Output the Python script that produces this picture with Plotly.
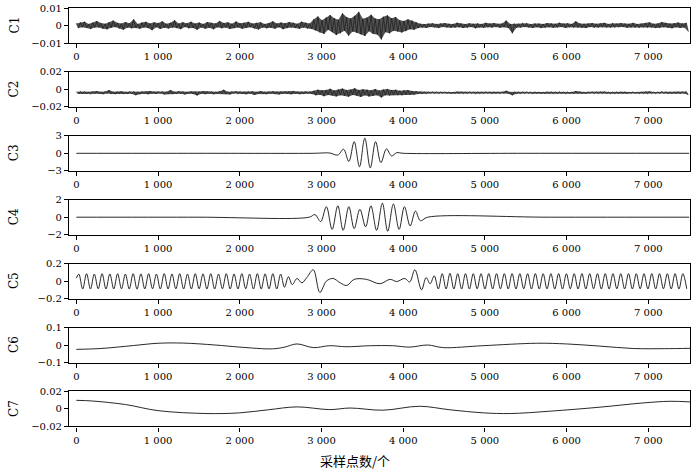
import numpy as np
import plotly.graph_objects as go

# ---------------- data ----------------
X_TICKS = [0, 1000, 2000, 3000, 4000, 5000, 6000, 7000]
X_TICK_TEXT = ["0", "1 000", "2 000", "3 000", "4 000", "5 000", "6 000", "7 000"]
N_SAMPLES = 7500

Y_LIMITS = [0.01, 0.02, 3, 2, 0.2, 0.1, 0.02]
Y_TICK_TEXT = [["−0.01", "0", "0.01"], ["−0.02", "0", "0.02"], ["−3", "0", "3"],
               ["−2", "0", "2"], ["−0.2", "0", "0.2"], ["−0.1", "0", "0.1"],
               ["−0.02", "0", "0.02"]]
NAMES = ["C1", "C2", "C3", "C4", "C5", "C6", "C7"]

# C1 noise, units of 1e-4 (successive local extrema)
C1_vals = [12,-15,18,-10,22,-14,9,-20,16,-12,25,-11,14,-18,10,-22,19,-13,28,-9,
           15,-17,11,-24,20,-12,13,-16,35,-14,9,-19,17,-11,21,-15,12,-27,18,-10,
           14,-20,24,-13,10,-17,16,-12,30,-15,11,-21,19,-9,13,-16,22,-14,12,-25,
           17,-11,9,-18,20,-13,15,-22,12,-10,26,-16,14,-12,18,-20,10,-15,23,-11,
           13,-19,16,-14,21,-10,11,-17,15,-23,19,-12,9,-16,14,-13,24,-18,12,-10,
           17,-21,13,-15,20,-11,16,-14,10,-19,22,-12,15,-17,11,-20,
           35,-28,52,-40,30,-48,45,-25,60,-38,42,-55,33,-45,70,-30,48,-58,40,-35,
           55,-42,78,-50,38,-60,45,-33,62,-48,40,-52,36,-80,50,-38,58,-45,42,-30,
           48,-35,30,-40,26,-32,35,-22,28,-25,18,-15,
           10,-12,8,-14,11,-9,13,-10,9,-15,12,-8,14,-11,10,-13,9,-12,16,-10,
           11,-14,8,-12,13,-9,10,-16,12,-11,9,-13,15,-10,11,-12,14,-9,10,-13,
           12,-10,28,-14,9,-45,11,-13,10,-12,15,-9,13,-11,8,-14,12,-10,11,-15,
           9,-12,14,-10,12,-13,10,-11,16,-9,11,-14,13,-10,9,-12,24,-11,12,-13,
           10,-15,11,-9,14,-12,10,-13,12,-10,15,-11,9,-14,13,-12,11,-10,14,-9,
           12,-13,10,-11,15,-12,9,-14,11,-10,13,-12,18,-11,10,-15,12,-13,20,-10,
           14,-12,11,-16,13,-10,17,-14,12,-11,15,-35]
C1_SCALE = 1e-4

# C2 noise, units of 1e-4, around an offset
C2_OFFSET = -0.0038
C2_vals = [12,-14,16,-11,13,-15,10,-18,14,-12,19,-13,11,-16,15,-10,30,-14,12,-19,
           13,-11,18,-15,10,-14,16,-12,14,-28,11,-16,15,-13,12,-18,19,-11,13,-15,
           16,-10,14,-19,12,-13,30,-16,11,-14,18,-12,15,-20,10,-13,16,-15,12,-32,
           14,-11,19,-16,13,-12,15,-18,11,-14,16,-13,34,-15,12,-19,14,-10,18,-16,
           13,-14,11,-18,15,-12,16,-26,10,-15,19,-13,12,-16,14,-11,18,-15,13,-19,
           15,-12,16,-14,11,-18,20,-13,14,-16,12,-15,18,-11,13,-14,
           22,-30,35,-24,28,-40,32,-26,45,-30,26,-42,38,-28,48,-33,30,-45,36,-25,
           52,-34,30,-48,40,-30,35,-44,28,-36,42,-30,25,-55,38,-28,44,-32,30,-26,
           35,-28,24,-30,28,-22,30,-24,20,-22,17,-14,
           9,-11,8,-12,10,-9,11,-10,9,-13,11,-8,12,-10,9,-11,8,-12,13,-9,
           10,-12,8,-11,11,-9,10,-13,11,-10,9,-12,13,-9,10,-11,12,-9,10,-12,
           11,-10,24,-12,9,-30,10,-11,9,-12,13,-9,11,-10,8,-12,11,-9,10,-13,
           9,-11,12,-10,11,-12,9,-10,13,-9,10,-12,11,-10,9,-11,20,-10,11,-12,
           9,-13,10,-9,12,-11,10,-12,11,-9,13,-10,9,-12,11,-11,10,-9,12,-9,
           11,-12,9,-10,13,-11,9,-12,10,-9,12,-11,16,-10,9,-13,11,-12,18,-9,
           12,-11,10,-13,11,-9,14,-12,11,-10,13,-26]
C2_SCALE = 1e-4

# C3 wave packet (extrema)
C3_x = [0, 1500, 2900, 3100, 3200, 3270, 3335, 3400, 3465, 3530, 3597, 3662, 3727, 3795, 3858, 3920, 4000, 5500, 7500]
C3_y = [0, 0, 0, 0.05, -0.3, 0.7, -1.4, 2.0, -2.3, 2.6, -2.5, 2.0, -1.6, 0.75, -0.45, 0.1, 0, 0, 0]

# C4 wave packet (extrema)
C4_x = [0, 1500, 2850, 2920, 2990, 3060, 3130, 3200, 3265, 3335, 3400, 3470, 3540, 3605,
        3675, 3745, 3810, 3880, 3950, 4015, 4085, 4150, 4210, 4300, 5800, 7500]
C4_y = [0, 0, 0, 0.3, -0.5, 1.2, -1.4, 1.3, -1.5, 1.2, -1.3, 0.9, -1.1, 1.3,
        -1.5, 1.6, -1.6, 1.5, -1.4, 1.2, -1.0, 0.7, -0.4, 0, 0, 0]

# C5: regular oscillation extrema + irregular middle section
C5_HALF_PERIOD = 47.5
C5_left_start = 30
C5_left_vals = [0.08,-0.09,0.085,-0.09,0.08,-0.088,0.085,-0.09,0.082,-0.09,
                0.085,-0.088,0.08,-0.09,0.085,-0.092,0.083,-0.09,0.085,-0.088,
                0.08,-0.09,0.086,-0.09,0.082,-0.089,0.085,-0.09,0.08,-0.09,
                0.085,-0.088,0.083,-0.09,0.085,-0.09,0.08,-0.088,0.085,-0.09,
                0.082,-0.09,0.085,-0.088,0.08,-0.09,0.085,-0.09,0.083,-0.088,
                0.085,-0.09,0.08,-0.07,0.05,-0.04]
C5_mid_x = [2700, 2760, 2820, 2900, 2980, 3060, 3140, 3230, 3310, 3400, 3550, 3715, 3840, 3920, 4020, 4080, 4143, 4225, 4280, 4330, 4380]
C5_mid_y = [0.03, -0.02, 0.04, 0.13, -0.13, 0.0, 0.03, -0.02, -0.05, 0.02, 0.02, -0.03, 0.02, -0.005, 0.03, -0.01, 0.13, -0.1, 0.04, -0.03, 0.06]
C5_right_start = 4430
C5_right_vals = [-0.09,0.085,-0.09,0.088,-0.09,0.085,-0.09,0.086,-0.09,0.085,
                 -0.088,0.085,-0.09,0.086,-0.09,0.085,-0.088,0.085,-0.09,0.086,
                 -0.09,0.085,-0.088,0.085,-0.09,0.086,-0.09,0.085,-0.088,0.085,
                 -0.09,0.086,-0.09,0.085,-0.088,0.085,-0.09,0.086,-0.09,0.085,
                 -0.088,0.085,-0.09,0.086,-0.09,0.085,-0.088,0.085,-0.09,0.086,
                 -0.09,0.085,-0.088,0.085,-0.09,0.086,-0.09,0.085,-0.088,0.085,
                 -0.09,0.086,-0.09,0.085,-0.088]

# C6 slow trend
C6_x = [0, 300, 700, 1000, 1300, 1700, 2000, 2400, 2550, 2700, 2900, 3100, 3300, 3600, 3870, 4080, 4300, 4490, 4975, 5635, 6000, 6400, 6815, 7200, 7510]
C6_y = [-0.025, -0.02, -0.003, 0.01, 0.011, 0.0, -0.012, -0.022, -0.012, 0.006, -0.015, -0.004, -0.01, -0.004, -0.004, -0.012, 0.0, -0.015, -0.004, 0.01, 0.006, -0.006, -0.02, -0.021, -0.019]

# C7 slow trend
C7_x = [0, 200, 600, 1000, 1600, 2000, 2350, 2700, 3100, 3350, 3750, 4200, 4570, 4980, 5310, 5800, 6410, 6934, 7265, 7510]
C7_y = [0.0098, 0.009, 0.005, -0.002, -0.0053, -0.0045, -0.001, 0.0023, -0.0008, 0.001, -0.0015, 0.003, -0.001, -0.0045, -0.0053, -0.0026, 0.002, 0.0068, 0.0087, 0.008]

X_TITLE = "采样点数/个"

# ---------------- build series ----------------
def noise_xy(vals, scale, offset=0.0):
    xs = np.linspace(0, N_SAMPLES - 10, len(vals))
    ys = np.array(vals, dtype=float) * scale + offset
    return xs, ys

c1x, c1y = noise_xy(C1_vals, C1_SCALE)
c2x, c2y = noise_xy(C2_vals, C2_SCALE, C2_OFFSET)
c5lx = C5_left_start + C5_HALF_PERIOD * np.arange(len(C5_left_vals))
c5rx = C5_right_start + C5_HALF_PERIOD * np.arange(len(C5_right_vals))
c5x = np.concatenate([[0], c5lx, C5_mid_x, c5rx])
c5y = np.concatenate([[0.035], C5_left_vals, C5_mid_y, C5_right_vals])

series = [
    (c1x, c1y, "linear", 0.6, 0.0),
    (c2x, c2y, "linear", 0.6, C2_OFFSET),
    (np.array(C3_x), np.array(C3_y), "spline", 0.9, None),
    (np.array(C4_x), np.array(C4_y), "spline", 0.9, None),
    (c5x, c5y, "spline", 0.9, None),
    (np.array(C6_x), np.array(C6_y), "spline", 0.9, None),
    (np.array(C7_x), np.array(C7_y), "spline", 0.9, None),
]

# ---------------- layout ----------------
W, H = 700, 471
ML, MR, MT, MB = 69, 10, 8, 44
PW, PH = W - ML - MR, H - MT - MB
PANEL_H = 35
PITCH = 63.9
FONT = "DejaVu Serif"

fig = go.Figure()
layout = dict(width=W, height=H, margin=dict(l=ML, r=MR, t=MT, b=MB, autoexpand=False),
              paper_bgcolor="white", plot_bgcolor="white", showlegend=False,
              font=dict(family=FONT, size=10, color="black"))
annotations = []
for i, (xs, ys, shape, lw, base) in enumerate(series):
    k = "" if i == 0 else str(i + 1)
    top = i * PITCH
    dom = [1 - (top + PANEL_H) / PH, 1 - top / PH]
    if base is not None:
        # dense noise band: envelope polygon through the local extrema
        up = ys > base
        px = np.concatenate([xs[up], xs[~up][::-1]])
        py = np.concatenate([ys[up], ys[~up][::-1]])
        fig.add_trace(go.Scatter(x=px, y=py, mode="lines", fill="toself",
                                 fillcolor="rgba(0,0,0,0.68)", line=dict(width=0),
                                 xaxis="x" + k, yaxis="y" + k, hoverinfo="skip"))
    fig.add_trace(go.Scatter(x=xs, y=ys, mode="lines",
                             line=dict(color="#111", width=lw, shape=shape, smoothing=1.0),
                             xaxis="x" + k, yaxis="y" + k, hoverinfo="skip"))
    lim = Y_LIMITS[i]
    layout["xaxis" + k] = dict(domain=[0, 1], anchor="y" + k, range=[-90, 7510],
                               tickvals=X_TICKS, ticktext=X_TICK_TEXT, automargin=False,
                               ticks="outside", ticklen=4, tickwidth=1, tickcolor="black",
                               showline=True, mirror=True, linecolor="black", linewidth=1.2,
                               showgrid=False, zeroline=False,
                               tickfont=dict(family=FONT, size=10))
    layout["yaxis" + k] = dict(domain=dom, anchor="x" + k, range=[-lim, lim],
                               tickvals=[-lim, 0, lim], ticktext=Y_TICK_TEXT[i], automargin=False,
                               ticks="outside", ticklen=4, tickwidth=1, tickcolor="black",
                               showline=True, mirror=True, linecolor="black", linewidth=1.2,
                               showgrid=False, zeroline=False,
                               tickfont=dict(family=FONT, size=10))
    annotations.append(dict(text=NAMES[i], xref="paper", yref="paper",
                            x=(14 - ML) / PW, y=(dom[0] + dom[1]) / 2,
                            xanchor="center", yanchor="middle", textangle=-90,
                            showarrow=False, font=dict(family=FONT, size=12)))

annotations.append(dict(text=X_TITLE, xref="paper", yref="paper",
                        x=(355 - ML) / PW, y=1 - (461 - MT) / PH,
                        xanchor="center", yanchor="middle", showarrow=False,
                        font=dict(family="Noto Sans CJK SC", size=13)))
layout["annotations"] = annotations
fig.update_layout(**layout)
fig.write_html("out.html", config={"displayModeBar": False},
               post_script="document.body.style.margin='0px';")
